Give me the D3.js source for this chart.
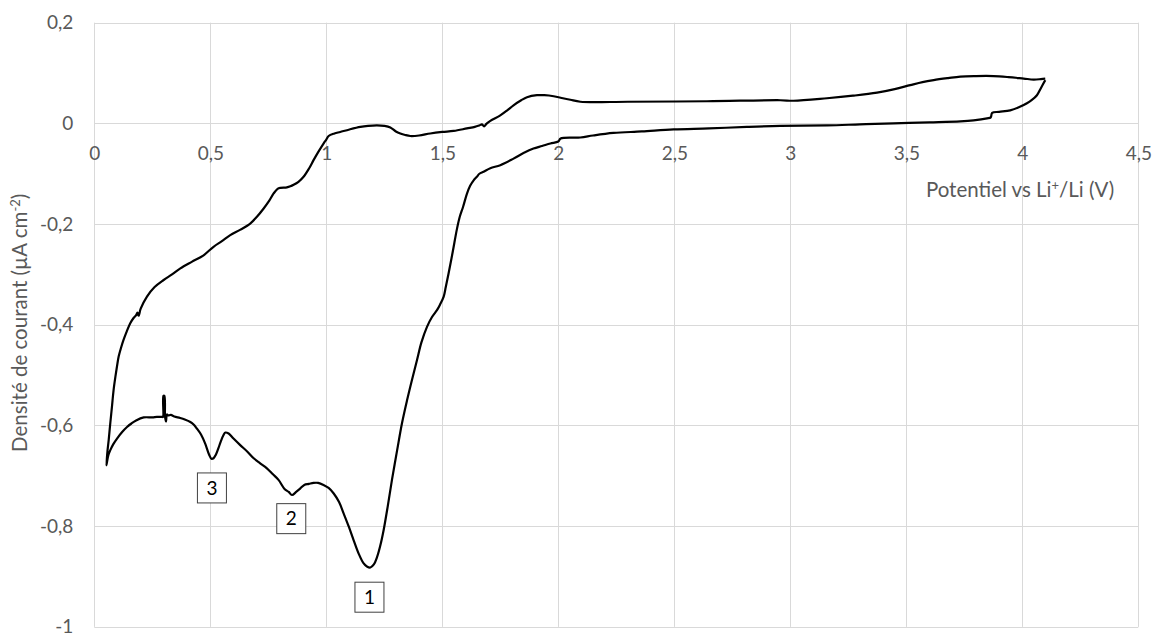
<!DOCTYPE html>
<html>
<head>
<meta charset="utf-8">
<script src="https://cdn.jsdelivr.net/npm/d3@7"></script>
<style>
  html, body { margin: 0; padding: 0; background: #fff; }
  svg { display: block; font-family: "Lato", "Open Sans", sans-serif; }
</style>
</head>
<body>
<svg id="chart" width="1155" height="635"></svg>
<script>
// ---------- data ----------
// Cathodic scan (from 4.1 V down to 0.05 V)
const cathodicV = [4.099, 4.080, 4.063, 4.040, 4.020, 3.985, 3.948, 3.900, 3.870, 3.864, 3.848, 3.790, 3.733, 3.600, 3.445, 3.300, 3.158, 2.957, 2.813, 2.650, 2.497, 2.360, 2.238, 2.150, 2.095, 2.010, 2.000, 1.966, 1.930, 1.893, 1.850, 1.807, 1.750, 1.707, 1.678, 1.660, 1.649, 1.635, 1.620, 1.606, 1.590, 1.575, 1.563, 1.545, 1.527, 1.515, 1.506, 1.490, 1.477, 1.455, 1.434, 1.410, 1.391, 1.370, 1.348, 1.326, 1.305, 1.283, 1.265, 1.247, 1.232, 1.219, 1.205, 1.190, 1.175, 1.161, 1.140, 1.118, 1.097, 1.075, 1.055, 1.032, 1.010, 0.988, 0.965, 0.945, 0.925, 0.905, 0.888, 0.870, 0.852, 0.838, 0.820, 0.794, 0.770, 0.744, 0.715, 0.687, 0.660, 0.629, 0.600, 0.579, 0.565, 0.557, 0.545, 0.535, 0.524, 0.514, 0.505, 0.495, 0.478, 0.460, 0.442, 0.428, 0.414, 0.390, 0.370, 0.345, 0.330, 0.318, 0.313, 0.309, 0.305, 0.302, 0.298, 0.296, 0.292, 0.270, 0.250, 0.213, 0.180, 0.160, 0.141, 0.120, 0.098, 0.082, 0.069, 0.060, 0.052];
const cathodicI = [0.086, 0.070, 0.056, 0.046, 0.040, 0.032, 0.026, 0.023, 0.021, 0.012, 0.010, 0.006, 0.004, 0.002, 0.000, -0.002, -0.004, -0.005, -0.007, -0.010, -0.012, -0.016, -0.019, -0.024, -0.028, -0.030, -0.036, -0.040, -0.045, -0.050, -0.059, -0.070, -0.083, -0.089, -0.096, -0.100, -0.106, -0.113, -0.124, -0.140, -0.165, -0.186, -0.210, -0.255, -0.298, -0.325, -0.344, -0.360, -0.371, -0.385, -0.404, -0.435, -0.470, -0.508, -0.550, -0.596, -0.650, -0.708, -0.760, -0.808, -0.840, -0.861, -0.876, -0.882, -0.880, -0.874, -0.855, -0.828, -0.801, -0.775, -0.752, -0.735, -0.724, -0.718, -0.714, -0.714, -0.716, -0.718, -0.725, -0.732, -0.738, -0.732, -0.726, -0.708, -0.697, -0.685, -0.675, -0.665, -0.652, -0.639, -0.626, -0.616, -0.614, -0.619, -0.632, -0.645, -0.658, -0.665, -0.666, -0.658, -0.636, -0.618, -0.606, -0.598, -0.593, -0.588, -0.585, -0.582, -0.579, -0.580, -0.578, -0.592, -0.583, -0.541, -0.541, -0.583, -0.583, -0.583, -0.584, -0.584, -0.590, -0.596, -0.603, -0.613, -0.626, -0.637, -0.649, -0.660, -0.679];

// Anodic scan (from 0.05 V back up to 4.1 V)
const anodicV = [0.052, 0.057, 0.062, 0.069, 0.076, 0.083, 0.091, 0.098, 0.105, 0.115, 0.126, 0.140, 0.155, 0.170, 0.180, 0.186, 0.191, 0.200, 0.227, 0.260, 0.299, 0.335, 0.371, 0.420, 0.471, 0.514, 0.550, 0.586, 0.630, 0.672, 0.700, 0.730, 0.752, 0.773, 0.790, 0.802, 0.830, 0.845, 0.859, 0.880, 0.902, 0.925, 0.945, 0.965, 0.988, 1.000, 1.010, 1.035, 1.060, 1.100, 1.147, 1.180, 1.218, 1.250, 1.276, 1.300, 1.319, 1.340, 1.362, 1.400, 1.448, 1.500, 1.549, 1.606, 1.640, 1.660, 1.671, 1.680, 1.690, 1.707, 1.750, 1.780, 1.807, 1.840, 1.865, 1.908, 1.940, 1.980, 2.020, 2.052, 2.095, 2.300, 2.641, 2.957, 3.014, 3.158, 3.270, 3.374, 3.450, 3.517, 3.570, 3.618, 3.680, 3.733, 3.800, 3.876, 3.940, 4.006, 4.049, 4.080, 4.099];
const anodicI = [-0.679, -0.650, -0.629, -0.595, -0.563, -0.530, -0.503, -0.482, -0.463, -0.446, -0.430, -0.413, -0.397, -0.386, -0.381, -0.376, -0.382, -0.368, -0.344, -0.325, -0.311, -0.300, -0.288, -0.275, -0.262, -0.245, -0.234, -0.222, -0.211, -0.199, -0.186, -0.169, -0.155, -0.139, -0.130, -0.128, -0.127, -0.125, -0.122, -0.116, -0.106, -0.090, -0.073, -0.057, -0.040, -0.032, -0.025, -0.020, -0.017, -0.012, -0.007, -0.005, -0.004, -0.005, -0.008, -0.016, -0.020, -0.023, -0.025, -0.024, -0.020, -0.017, -0.015, -0.010, -0.007, -0.004, -0.002, -0.006, -0.001, 0.005, 0.016, 0.026, 0.036, 0.046, 0.052, 0.056, 0.056, 0.054, 0.050, 0.047, 0.043, 0.043, 0.044, 0.046, 0.045, 0.050, 0.055, 0.061, 0.068, 0.076, 0.082, 0.086, 0.090, 0.093, 0.094, 0.094, 0.092, 0.089, 0.087, 0.088, 0.089];

const xTicks = [0, 0.5, 1, 1.5, 2, 2.5, 3, 3.5, 4, 4.5];
const xTickLabels = ["0", "0,5", "1", "1,5", "2", "2,5", "3", "3,5", "4", "4,5"];
const yTicks = [-1, -0.8, -0.6, -0.4, -0.2, 0, 0.2];
const yTickLabels = ["-1", "-0,8", "-0,6", "-0,4", "-0,2", "0", "0,2"];

const peakLabels = ["1", "2", "3"];
const peakLabelV = [1.186, 0.849, 0.507];
const peakLabelI = [-0.941, -0.785, -0.724];

// ---------- layout ----------
const svg = d3.select("#chart");
const plot = { left: 94.3, right: 1138.3, top: 22.7, bottom: 626.9 };

const x = d3.scaleLinear().domain([0, 4.5]).range([plot.left, plot.right]);
const y = d3.scaleLinear().domain([-1, 0.2]).range([plot.bottom, plot.top]);

const gridColor = "#d9d9d9";
const textColor = "#595959";
const tickFont = "19px";
const titleFont = "20.5px";

// grid (vertical)
svg.append("g")
  .selectAll("line")
  .data(xTicks)
  .join("line")
  .attr("x1", d => Math.round(x(d)) + 0.5)
  .attr("x2", d => Math.round(x(d)) + 0.5)
  .attr("y1", plot.top)
  .attr("y2", plot.bottom)
  .attr("stroke", gridColor)
  .attr("stroke-width", 1);

// grid (horizontal)
svg.append("g")
  .selectAll("line")
  .data(yTicks)
  .join("line")
  .attr("x1", plot.left)
  .attr("x2", plot.right)
  .attr("y1", d => Math.round(y(d)) + 0.5)
  .attr("y2", d => Math.round(y(d)) + 0.5)
  .attr("stroke", gridColor)
  .attr("stroke-width", 1);

// y axis labels
const yAxis = d3.axisLeft(y)
  .tickValues(yTicks)
  .tickFormat((d, i) => yTickLabels[i])
  .tickSize(0)
  .tickPadding(21);
const gy = svg.append("g").attr("transform", `translate(${plot.left},0)`).call(yAxis);
gy.select(".domain").remove();
gy.selectAll("text")
  .attr("fill", textColor)
  .style("font-size", tickFont)
  .style("font-family", "Lato, 'Open Sans', sans-serif");

// x axis labels (at y = 0)
const xAxis = d3.axisBottom(x)
  .tickValues(xTicks)
  .tickFormat((d, i) => xTickLabels[i])
  .tickSize(0)
  .tickPadding(23);
const gx = svg.append("g").attr("transform", `translate(0,${y(0)})`).call(xAxis);
gx.select(".domain").remove();
gx.selectAll("text")
  .attr("fill", textColor)
  .style("font-size", tickFont)
  .style("font-family", "Lato, 'Open Sans', sans-serif");

// ---------- curve ----------
const pts = cathodicV.map((v, i) => [v, cathodicI[i]])
  .concat(anodicV.slice(1).map((v, i) => [v, anodicI[i + 1]]));

const line = d3.line()
  .x(d => x(d[0]))
  .y(d => y(d[1]))
  .curve(d3.curveCatmullRom.alpha(0.5));

svg.append("path")
  .datum(pts)
  .attr("d", line)
  .attr("fill", "none")
  .attr("stroke", "#000")
  .attr("stroke-width", 2.2)
  .attr("stroke-linejoin", "round");

// ---------- peak labels ----------
const lab = svg.append("g")
  .selectAll("g")
  .data(peakLabels)
  .join("g")
  .attr("transform", (d, i) => `translate(${x(peakLabelV[i])},${y(peakLabelI[i])})`);
lab.append("rect")
  .attr("x", -14.5).attr("y", -15)
  .attr("width", 29).attr("height", 30)
  .attr("fill", "#fff")
  .attr("stroke", "#404040")
  .attr("stroke-width", 1);
lab.append("text")
  .attr("text-anchor", "middle")
  .attr("dy", "0.36em")
  .attr("fill", "#000")
  .style("font-size", "19px")
  .text(d => d);

// ---------- axis titles ----------
const xt = svg.append("text")
  .attr("x", 1020)
  .attr("y", 197)
  .attr("text-anchor", "middle")
  .attr("fill", textColor)
  .style("font-size", titleFont);
xt.append("tspan").text("Potentiel vs Li");
xt.append("tspan").attr("dy", -7).style("font-size", "13px").text("+");
xt.append("tspan").attr("dy", 7).text("/Li (V)");

const yt = svg.append("text")
  .attr("transform", `translate(27,${(plot.top + plot.bottom) / 2 - 2}) rotate(-90)`)
  .attr("text-anchor", "middle")
  .attr("fill", textColor)
  .style("font-size", titleFont);
yt.append("tspan").text("Densité de courant (µA cm");
yt.append("tspan").attr("dy", -7).style("font-size", "13px").text("-2");
yt.append("tspan").attr("dy", 7).text(")");
</script>
</body>
</html>
